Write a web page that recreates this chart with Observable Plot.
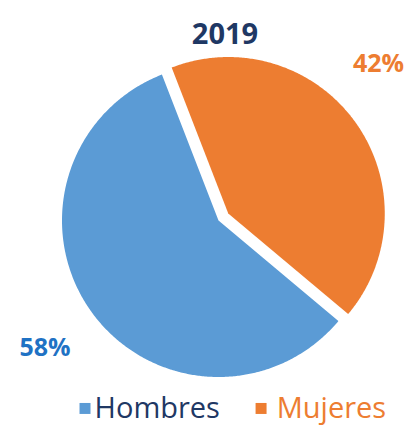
<!DOCTYPE html>
<html>
<head>
<meta charset="utf-8">
<script src="https://cdn.jsdelivr.net/npm/d3@7"></script>
<script src="https://cdn.jsdelivr.net/npm/@observablehq/plot@0.6"></script>
<style>
  html, body { margin: 0; padding: 0; background: #fff; }
  svg { display: block; }
</style>
</head>
<body>
<div id="chart"></div>
<script>
// ---- data ----
const title = "2019";
const categories = ["Hombres", "Mujeres"];
const values = [58, 42];
const percentLabels = ["58%", "42%"];
const sliceColors = ["#5B9BD5", "#ED7D31"];
const labelColors = ["#1F72C4", "#ED7D31"];
const legendTextColors = ["#1F3864", "#ED7D31"];

// ---- layout helpers (not data) ----
const R = 156.5, CX = 218, CY = 220;
const explode = [0, 12 / R];
const startDeg = 130;

const pie = d3.pie().sort(null)
  .startAngle(startDeg * Math.PI / 180)
  .endAngle(startDeg * Math.PI / 180 + 2 * Math.PI)(values);

const points = [];
pie.forEach((s, i) => {
  const mid = (s.startAngle + s.endAngle) / 2;
  const ox = Math.sin(mid) * explode[i], oy = Math.cos(mid) * explode[i];
  points.push({cat: categories[i], x: ox, y: oy});
  const n = Math.ceil((s.endAngle - s.startAngle) / (Math.PI / 360));
  for (let k = 0; k <= n; k++) {
    const a = s.startAngle + (s.endAngle - s.startAngle) * k / n;
    points.push({cat: categories[i], x: ox + Math.sin(a), y: oy + Math.cos(a)});
  }
});

const labelPos = [{x: -1.109, y: -0.815}, {x: 1.022, y: 0.997}];
const labels = percentLabels.map((t, i) => ({t, ...labelPos[i]}));
const legendSq = [{x: -0.853, y: -1.201}, {x: 0.272, y: -1.201}];
const legendTx = [{x: -0.792, y: -1.201}, {x: 0.372, y: -1.201}];
const legend = categories.map((c, i) => ({c, sx: legendSq[i].x, sy: legendSq[i].y, tx: legendTx[i].x, ty: legendTx[i].y}));

const chart = Plot.plot({
  width: 409,
  height: 426,
  margin: 0,
  x: {domain: [-1, 1], range: [CX - R, CX + R], axis: null},
  y: {domain: [-1, 1], range: [CY + R, CY - R], axis: null},
  color: {domain: categories, range: sliceColors},
  style: {fontFamily: "'Open Sans', sans-serif", background: "#fff"},
  marks: [
    Plot.line(points, {x: "x", y: "y", z: "cat", fill: "cat", stroke: "none", curve: "linear-closed"}),
    Plot.text([title], {frameAnchor: "top", dx: 20, dy: 22.5, fontSize: 29, fontWeight: "bold", fill: "#1F3864"}),
    Plot.text(labels.slice(0, 1), {x: "x", y: "y", text: "t", fontSize: 25, fontWeight: "bold", fill: labelColors[0]}),
    Plot.text(labels.slice(1, 2), {x: "x", y: "y", text: "t", fontSize: 25, fontWeight: "bold", fill: labelColors[1]}),
    Plot.dot(legend, {x: "sx", y: "sy", symbol: "square", r: 6.2, fill: "c", stroke: "none"}),
    Plot.text(legend.slice(0, 1), {x: "tx", y: "ty", text: "c", textAnchor: "start", fontSize: 29, dy: 0.5, fill: legendTextColors[0]}),
    Plot.text(legend.slice(1, 2), {x: "tx", y: "ty", text: "c", textAnchor: "start", fontSize: 29, dy: 0.5, fill: legendTextColors[1]})
  ]
});
document.getElementById("chart").appendChild(chart);
</script>
</body>
</html>
